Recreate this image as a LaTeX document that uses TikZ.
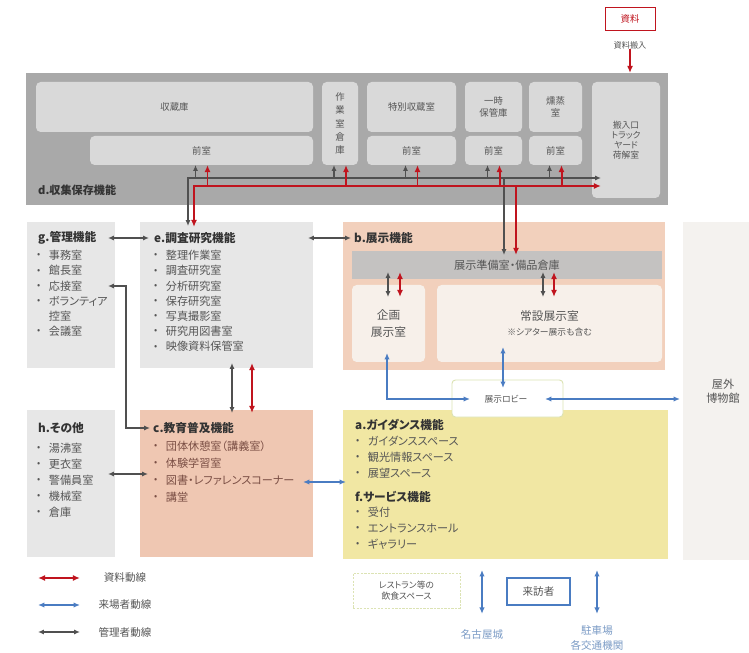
\documentclass[tikz,border=0pt]{standalone}
\usepackage{fontspec}
\setmainfont{Noto Sans CJK JP}[RawFeature=+palt]
\usetikzlibrary{arrows.meta, positioning, fit, calc}

\definecolor{collgray}{HTML}{A9A9A9}
\definecolor{roomgray}{HTML}{D9D9D9}
\definecolor{boxgray}{HTML}{E7E7E7}
\definecolor{peach}{HTML}{F2D0BC}
\definecolor{peachc}{HTML}{EFC7B2}
\definecolor{prepgray}{HTML}{C4C2C1}
\definecolor{paleroom}{HTML}{F7F0EA}
\definecolor{guideyel}{HTML}{F1E7A3}
\definecolor{outdoor}{HTML}{F4F2EF}
\definecolor{matred}{HTML}{C0141E}
\definecolor{visblue}{HTML}{4A7CC2}
\definecolor{mgrgray}{HTML}{505050}
\definecolor{ttlgray}{HTML}{333333}
\definecolor{txtgray}{HTML}{555555}
\definecolor{edubrown}{HTML}{7A4E44}
\definecolor{lobgreen}{HTML}{DCE3B4}
\definecolor{placeblue}{HTML}{7C9CC6}

\newcommand{\itm}[1]{\makebox[1.05em][l]{\raisebox{0.3ex}{\fontsize{8}{8}\selectfont •}}#1}

\begin{document}
\begin{tikzpicture}[
    x=0.03cm, y=-0.03cm,
    area/.style={inner sep=0pt, outer sep=0pt},
    room/.style={area, fill=roomgray, rounded corners=4pt},
    rlab/.style={inner sep=0pt, align=center, text=txtgray, font=\fontsize{8}{10}\selectfont},
    ttl/.style={anchor=west, inner sep=0pt, text=ttlgray, font=\bfseries\fontsize{10}{12}\selectfont},
    lst/.style={anchor=north west, inner sep=0pt, align=left, text=txtgray, font=\fontsize{9.5}{13}\selectfont},
    note/.style={inner sep=0pt, align=center, text=txtgray, font=\fontsize{8}{10}\selectfont},
    mat/.style={draw=matred, line width=1.7pt, >={Latex[length=6pt,width=5pt]}},
    vis/.style={draw=visblue, line width=1.4pt, >={Latex[length=5.5pt,width=4.6pt]}},
    mgr/.style={draw=mgrgray, line width=1.2pt, >={Latex[length=5pt,width=4.2pt]}},
]
\useasboundingbox (0,0) rectangle (749,653);
\fill[white] (0,0) rectangle (749,653);

% d. collection / storage
\node[area, fill=collgray, fit={(26,73) (668,205)}] (coll) {};
\node[room, fit={(36,82) (313,132)}, label={[rlab]center:収蔵庫}] (store) {};
\node[room, fit={(90,136) (313,165)}, label={[rlab]center:前室}] (zen1) {};
\node[room, fit={(322,82) (358,165)}, label={[rlab, font=\fontsize{8}{11.3}\selectfont]center:作\\業\\室\\倉\\庫}] (work) {};
\node[room, fit={(367,82) (456,132)}, label={[rlab]center:特別収蔵室}] (spec) {};
\node[room, fit={(367,136) (456,165)}, label={[rlab]center:前室}] (zen2) {};
\node[room, fit={(465,82) (522,132)}, label={[rlab]center:一時\\保管庫}] (temp) {};
\node[room, fit={(465,136) (522,165)}, label={[rlab]center:前室}] (zen3) {};
\node[room, fit={(529,82) (582,132)}, label={[rlab]center:燻蒸\\室}] (fumi) {};
\node[room, fit={(529,136) (582,165)}, label={[rlab]center:前室}] (zen4) {};
\node[room, fit={(592,82) (660,198)}, label={[rlab, font=\fontsize{7.5}{8.6}\selectfont]center:搬入口\\トラック\\ヤード\\荷解室}] (dock) {};
\node[ttl, font=\bfseries\fontsize{9.5}{11}\selectfont] (dttl) at (38,190) {d.収集保存機能};

\node[area, draw=matred, line width=0.8pt, fit={(605,7) (655,30)}, label={[rlab, text=matred]center:資料}] (src) {};
\node[note, font=\fontsize{7}{9}\selectfont] (srclab) at (630,45) {資料搬入};

% g / e / b
\node[area, fill=boxgray, fit={(27,222) (115,368)}] (gman) {};
\node[area, fill=boxgray, fit={(140,222) (313,368)}] (res) {};
\node[area, fill=peach, fit={(343,222) (665,370)}] (exh) {};
\node[area, fill=outdoor, fit={(683,222) (749,560)}] (outd) {};
\node[note, font=\fontsize{9.5}{12}\selectfont] (outlab) at (723,391) {屋外\\博物館};

\node[area, fill=prepgray, fit={(352,251) (662,279)}, label={[rlab, font=\fontsize{9.5}{11}\selectfont]center:展示準備室・備品倉庫}] (prep) {};
\node[area, fill=paleroom, rounded corners=4pt, fit={(352,285) (425,362)}, label={[rlab, font=\fontsize{10}{15}\selectfont]center:企画\\展示室}] (plan) {};
\node[area, fill=paleroom, rounded corners=4pt, fit={(437,285) (662,362)}, label={[rlab, font=\fontsize{10}{13}\selectfont]center:常設展示室\\{\fontsize{7.5}{9}\selectfont ※シアター展示も含む}}] (perm) {};

\node[ttl] (gttl) at (38,238) {g.管理機能};
\node[ttl] (ettl) at (154,238) {e.調査研究機能};
\node[ttl] (bttl) at (354,238) {b.展示機能};

\node[lst] (glist) at (37,250) {\itm{事務室}\\\itm{館長室}\\\itm{応接室}\\\itm{ボランティア}\\\hspace{1.05em}控室\\\itm{会議室}};
\node[lst] (elist) at (154,250) {\itm{整理作業室}\\\itm{調査研究室}\\\itm{分析研究室}\\\itm{保存研究室}\\\itm{写真撮影室}\\\itm{研究用図書室}\\\itm{映像資料保管室}};

% h / c / a+f
\node[area, fill=boxgray, fit={(27,410) (115,557)}] (other) {};
\node[area, fill=peachc, fit={(140,410) (313,557)}] (edu) {};
\node[area, fill=guideyel, fit={(343,410) (668,559)}] (guide) {};
\node[area, fill=white, draw=lobgreen, line width=0.8pt, rounded corners=3pt, fit={(452,380) (563,417)}] (lobby) {};
\node[note, font=\fontsize{7.5}{9}\selectfont] (lobtxt) at (506,399) {展示ロビー};

\node[ttl] (httl) at (38,428) {h.その他};
\node[ttl] (cttl) at (153,428) {c.教育普及機能};
\node[ttl] (attl) at (355,425) {a.ガイダンス機能};
\node[ttl] (fttl) at (355,497) {f.サービス機能};

\node[lst, font=\fontsize{9.5}{13.6}\selectfont] (hlist) at (37,443) {\itm{湯沸室}\\\itm{更衣室}\\\itm{警備員室}\\\itm{機械室}\\\itm{倉庫}};
\node[lst, text=edubrown, font=\fontsize{9.5}{14.4}\selectfont] (clist) at (154,441) {\itm{団体休憩室（講義室）}\\\itm{体験学習室}\\\itm{図書・レファレンスコーナー}\\\itm{講堂}};
\node[lst, font=\fontsize{9.5}{13.6}\selectfont] (alist) at (356,436) {\itm{ガイダンススペース}\\\itm{観光情報スペース}\\\itm{展望スペース}};
\node[lst, font=\fontsize{9.5}{13.6}\selectfont] (flist) at (356,507) {\itm{受付}\\\itm{エントランスホール}\\\itm{ギャラリー}};

% visitors
\node[area, draw=lobgreen, dash pattern=on 2pt off 1pt, line width=0.8pt, fit={(353,573) (460,608)}, label={[rlab, font=\fontsize{7.5}{10}\selectfont]center:レストラン等の\\飲食スペース}] (cafe) {};
\node[area, draw=visblue, line width=1pt, fit={(507,578) (570,605)}, label={[rlab, font=\fontsize{9}{11}\selectfont]center:来訪者}] (visitor) {};
\node[note, text=placeblue, font=\fontsize{9}{11}\selectfont] (castle) at (482,634) {名古屋城};
\node[note, text=placeblue, font=\fontsize{9}{13.6}\selectfont] (park) at (597,638) {駐車場\\各交通機関};

% connectors
\coordinate (gbus) at (188,178);
\coordinate (rbus) at (194,186);
\coordinate (gdrop) at (504,178);
\coordinate (rdrop) at (516,186);
\draw[mat,->] (srclab.south) -- (srclab.south |- coll.north);
\draw[mgr,<->] ($(gbus |- res.north)+(0,4)$) -- (gbus) -- ($(gbus -| dock.west)+(9,0)$);
\draw[mgr,->] (gdrop) -- ($(gdrop |- prep.north)+(0,4)$);
\foreach \r in {zen1, work, zen2, zen3, zen4}{
  \path ($(\r.south)+(-6,0)$) coordinate (up);
  \draw[mgr,->] (up |- gbus) -- (up);
}
\draw[mat,<->] ($(rbus |- res.north)+(0,5)$) -- (rbus) -- ($(rbus -| dock.west)+(9,0)$);
\draw[mat,->] (rdrop) -- ($(rdrop |- prep.north)+(0,4)$);
\foreach \r in {zen1, work, zen2, zen3, zen4}{
  \path ($(\r.south)+(6,0)$) coordinate (up);
  \draw[mat,->] (up |- rbus) -- (up);
}

\coordinate (gc) at (126,286);
\coordinate (hc) at (128,474);
\coordinate (ca) at (328,482);
\coordinate (ec) at (232,388);
\coordinate (ecr) at (252,388);
\draw[mgr,<->] ($(gman.east |- gttl)+(-7,0)$) -- ($(ettl.west)+(-5,0)$);
\draw[mgr,<->] ($(res.east |- ettl)+(-5,0)$) -- ($(bttl.west)+(-3,0)$);
\draw[mgr,<->] ($(gman.east |- gc)+(-7,0)$) -- (gc) |- ($(cttl.west)+(-3,0)$);
\draw[mgr,<->] ($(other.east |- hc)+(-7,0)$) -- ($(edu.west |- hc)+(8,0)$);
\draw[vis,<->] ($(edu.east |- ca)+(-10,0)$) -- ($(guide.west |- ca)+(3,0)$);
\draw[mgr,<->] ($(res.south -| ec)+(0,-5)$) -- ($(edu.north -| ec)+(0,3)$);
\draw[mat,<->] ($(res.south -| ecr)+(0,-5)$) -- ($(edu.north -| ecr)+(0,3)$);

\foreach \x/\s/\r in {388/mgr/plan, 400/mat/plan, 543/mgr/perm, 554/mat/perm}{
  \coordinate (pp) at (\x,0);
  \draw[\s,<->] ($(prep.south -| pp)+(0,-7)$) -- ($(\r.north -| pp)+(0,12)$);
}

\coordinate (pl) at (387,399);
\coordinate (pv) at (503,399);
\draw[vis,<->] ($(plan.south -| pl)+(0,-9)$) |- ($(lobby.west |- lobtxt)+(18,0)$);
\draw[vis,<->] ($(perm.south -| pv)+(0,-15)$) -- ($(lobby.north -| pv)+(0,8)$);
\draw[vis,<->] ($(lobby.east |- lobtxt)+(-18,0)$) -- ($(outd.west |- lobtxt)+(-3,0)$);
\draw[vis,<->] ($(guide.south -| castle)+(0,11)$) -- ($(castle.north)+(0,-15)$);
\draw[vis,<->] ($(guide.south -| park)+(0,11)$) -- ($(park.north)+(0,-11)$);

% legend
\foreach \y/\s/\t [count=\i] in {578/mat/資料動線, 605/vis/来場者動線, 632/mgr/管理者動線}{
  \coordinate (la\i) at (38,\y);
  \coordinate (lb\i) at (80,\y);
  \draw[\s,<->] (la\i) -- (lb\i);
  \node[note, font=\fontsize{9}{11}\selectfont] (leg\i) at (125,\y) {\t};
}
\end{tikzpicture}
\end{document}
